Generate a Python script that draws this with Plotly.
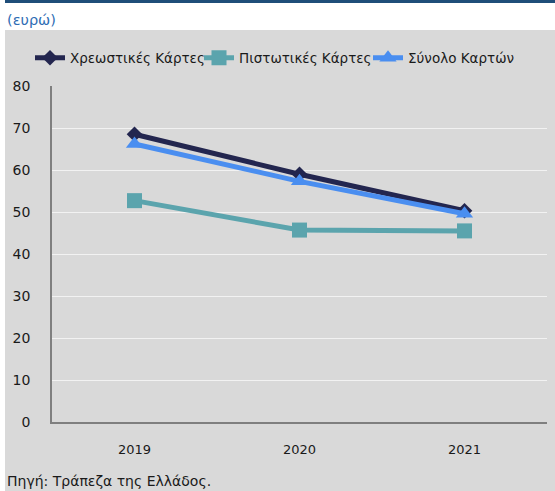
import plotly.graph_objects as go

years = ["2019", "2020", "2021"]
debit = [68.5, 59.0, 50.3]
credit = [52.7, 45.7, 45.5]
total = [66.2, 57.3, 49.6]
series_names = ["Χρεωστικές Κάρτες", "Πιστωτικές Κάρτες", "Σύνολο Καρτών"]
y_ticks = [0, 10, 20, 30, 40, 50, 60, 70, 80]

W, H = 555, 491
L, R, T, B = 52, 8, 86, 69
PW, PH = W - L - R, H - T - B

def px(x):
    return (x - L) / PW

def py(y):
    return (H - B - y) / PH

FONT = "DejaVu Sans"
fig = go.Figure()

fig.add_trace(go.Scatter(x=years, y=debit, name=series_names[0], mode="lines+markers",
                         line=dict(color="#23264f", width=5),
                         marker=dict(symbol="diamond", size=12, color="#23264f")))
fig.add_trace(go.Scatter(x=years, y=credit, name=series_names[1], mode="lines+markers",
                         line=dict(color="#5ba4ad", width=5),
                         marker=dict(symbol="square", size=15, color="#5ba4ad")))
fig.add_trace(go.Scatter(x=years, y=total, name=series_names[2], mode="lines+markers",
                         line=dict(color="#4a8ef0", width=5),
                         marker=dict(symbol="triangle-up", size=15, color="#4a8ef0")))

shapes = [
    dict(type="rect", xref="paper", yref="paper", x0=px(5), x1=px(W), y0=py(H), y1=py(30),
         fillcolor="#d9d9d9", line=dict(width=0), layer="below"),
    dict(type="rect", xref="paper", yref="paper", x0=px(5), x1=px(W), y0=py(3), y1=py(0),
         fillcolor="#1f4e79", line=dict(width=0), layer="below"),
]

fig.update_layout(
    width=W, height=H,
    margin=dict(l=L, r=R, t=T, b=B, pad=0),
    paper_bgcolor="white",
    plot_bgcolor="#d9d9d9",
    font=dict(family=FONT, size=13, color="#1a1a1a"),
    showlegend=True,
    legend=dict(orientation="h", x=px(30), y=py(58), xanchor="left", yanchor="middle",
                bgcolor="rgba(0,0,0,0)", font=dict(size=13.5, color="#1a1a1a"),
                itemwidth=30, tracegroupgap=0, entrywidthmode="pixels", entrywidth=124),
    shapes=shapes,
    annotations=[
        dict(text="(ευρώ)", xref="paper", yref="paper", x=px(5), y=py(20),
             xanchor="left", yanchor="middle", showarrow=False,
             font=dict(family=FONT, size=14.5, color="#2e6db4")),
        dict(text="Πηγή: Τράπεζα της Ελλάδος.", xref="paper", yref="paper", x=px(5), y=py(481),
             xanchor="left", yanchor="middle", showarrow=False,
             font=dict(family=FONT, size=14, color="#1a1a1a")),
    ],
    xaxis=dict(type="category", range=[-0.5, 2.5], showgrid=False, showline=True,
               linecolor="#7f7f7f", linewidth=1.5, ticks="", ticklabelstandoff=15,
               tickfont=dict(size=13, color="#1a1a1a"), zeroline=False, fixedrange=True),
    yaxis=dict(range=[0, 80], tickvals=y_ticks, showgrid=True, gridcolor="#f2f2f2",
               gridwidth=1, showline=True, linecolor="#7f7f7f", linewidth=1.5, ticks="",
               ticklabelstandoff=17, tickfont=dict(size=14, color="#1a1a1a"),
               zeroline=False, fixedrange=True),
)

fig.write_html("out.html", config={"displayModeBar": False},
               post_script="document.body.style.margin='0';")
